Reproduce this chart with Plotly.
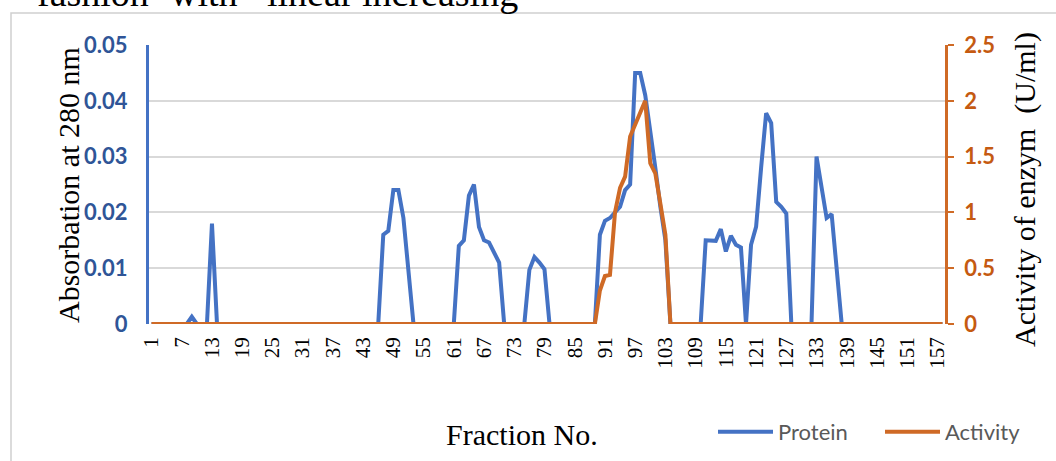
import plotly.graph_objects as go

# ---------------- data ----------------
fractions = list(range(1, 159))
tick_fractions = list(range(1, 158, 6))
tick_labels = [str(v) for v in tick_fractions]

protein = [
    0, 0, 0, 0, 0, 0, 0, 0, 0.0013, 0,                                  # 1-10
    0, 0, 0.018, 0, 0, 0, 0, 0, 0, 0,                                   # 11-20
    0, 0, 0, 0, 0, 0, 0, 0, 0, 0,                                       # 21-30
    0, 0, 0, 0, 0, 0, 0, 0, 0, 0,                                       # 31-40
    0, 0, 0, 0, 0, 0, 0.016, 0.0167, 0.024, 0.024,                      # 41-50
    0.019, 0.0095, 0, 0, 0, 0, 0, 0, 0, 0,                              # 51-60
    0, 0.014, 0.015, 0.023, 0.025, 0.0174, 0.015, 0.0146, 0.0128, 0.011,  # 61-70
    0, 0, 0, 0, 0, 0.0097, 0.012, 0.011, 0.0098, 0,                     # 71-80
    0, 0, 0, 0, 0, 0, 0, 0, 0, 0.016,                                   # 81-90
    0.0185, 0.019, 0.020, 0.021, 0.024, 0.025, 0.045, 0.045, 0.041, 0.035,  # 91-100
    0.028, 0.021, 0.015, 0, 0, 0, 0, 0, 0, 0,                           # 101-110
    0.015, 0.015, 0.0149, 0.017, 0.013, 0.0158, 0.0142, 0.0137, 0, 0.0142,  # 111-120
    0.0174, 0.028, 0.0378, 0.036, 0.0219, 0.021, 0.0198, 0, 0, 0,       # 121-130
    0, 0, 0.030, 0.025, 0.019, 0.0197, 0.010, 0, 0, 0,                  # 131-140
    0, 0, 0, 0, 0, 0, 0, 0, 0, 0,                                       # 141-150
    0, 0, 0, 0, 0, 0, 0, 0,                                             # 151-158
]

activity = [
    0, 0, 0, 0, 0, 0, 0, 0, 0, 0,                                       # 1-10
    0, 0, 0, 0, 0, 0, 0, 0, 0, 0,                                       # 11-20
    0, 0, 0, 0, 0, 0, 0, 0, 0, 0,                                       # 21-30
    0, 0, 0, 0, 0, 0, 0, 0, 0, 0,                                       # 31-40
    0, 0, 0, 0, 0, 0, 0, 0, 0, 0,                                       # 41-50
    0, 0, 0, 0, 0, 0, 0, 0, 0, 0,                                       # 51-60
    0, 0, 0, 0, 0, 0, 0, 0, 0, 0,                                       # 61-70
    0, 0, 0, 0, 0, 0, 0, 0, 0, 0,                                       # 71-80
    0, 0, 0, 0, 0, 0, 0, 0, 0, 0.30,                                    # 81-90
    0.43, 0.44, 1.00, 1.22, 1.32, 1.68, 1.78, 1.90, 2.00, 1.44,         # 91-100
    1.35, 1.08, 0.80, 0, 0, 0, 0, 0, 0, 0,                              # 101-110
    0, 0, 0, 0, 0, 0, 0, 0, 0, 0,                                       # 111-120
    0, 0, 0, 0, 0, 0, 0, 0, 0, 0,                                       # 121-130
    0, 0, 0, 0, 0, 0, 0, 0, 0, 0,                                       # 131-140
    0, 0, 0, 0, 0, 0, 0, 0, 0, 0,                                       # 141-150
    0, 0, 0, 0, 0, 0, 0, 0,                                             # 151-158
]

y1_ticks = [0, 0.01, 0.02, 0.03, 0.04, 0.05]
y1_labels = ["0", "0.01", "0.02", "0.03", "0.04", "0.05"]
y2_ticks = [0, 0.5, 1, 1.5, 2, 2.5]
y2_labels = ["0", "0.5", "1", "1.5", "2", "2.5"]

top_words = ["fashion", "with", "linear", "increasing"]

# ---------------- styling ----------------
W, H = 1056, 461
L, R, T, B = 149, 111, 45, 137
PW, PH = W - L - R, H - T - B

BLUE = "#4472C4"
ORANGE = "#CF6A26"
SERIF = "Liberation Serif, Times New Roman, serif"
SANS = "Lato, Carlito, Calibri, sans-serif"


def px(xp):
    return (xp - L) / PW


def py(yp):
    return (H - B - yp) / PH


fig = go.Figure()
fig.add_trace(go.Scatter(x=fractions, y=protein, mode="lines", name="Protein",
                         line=dict(color=BLUE, width=4), yaxis="y"))
fig.add_trace(go.Scatter(x=fractions, y=activity, mode="lines", name="Activity",
                         line=dict(color=ORANGE, width=4), yaxis="y2"))

fig.update_layout(
    width=W, height=H,
    margin=dict(l=L, r=R, t=T, b=B, pad=0, autoexpand=False),
    paper_bgcolor="white", plot_bgcolor="white",
    xaxis=dict(range=[0.5, 158.5], tickvals=tick_fractions, ticktext=tick_labels,
               tickangle=-90, tickfont=dict(family=SERIF, size=21, color="#000000"),
               showgrid=False, zeroline=False, showline=False, ticks="",
               ticklabelstandoff=8, automargin=False),
    yaxis=dict(range=[0, 0.05], tickvals=y1_ticks, ticktext=y1_labels,
               tickfont=dict(family=SANS, size=22, color="#2F5597", weight="bold"),
               showgrid=True, gridcolor="#D9D9D9", gridwidth=1.5, zeroline=False,
               showline=True, linecolor=BLUE, linewidth=3, ticks="",
               ticklabelstandoff=14, automargin=False),
    yaxis2=dict(range=[0, 2.5], tickvals=y2_ticks, ticktext=y2_labels, overlaying="y",
                side="right", tickfont=dict(family=SANS, size=22, color="#C55A11", weight="bold"),
                showgrid=False, zeroline=False, showline=True, linecolor=ORANGE, linewidth=2.5,
                ticks="outside", ticklen=6, tickwidth=2, tickcolor=ORANGE,
                ticklabelstandoff=6, automargin=False),
    showlegend=True,
    legend=dict(orientation="h", x=px(713), xanchor="left", y=py(432), yanchor="middle",
                font=dict(family=SANS, size=22, color="#595959"), itemwidth=55,
                entrywidth=97, entrywidthmode="pixels",
                bgcolor="rgba(0,0,0,0)", traceorder="normal"),
)

annotations = [
    dict(text="Absorbation at 280 nm", x=px(68), y=py(185), textangle=-90,
         font=dict(family=SERIF, size=30, color="#000000")),
    dict(text="Activity of enzym  (U/ml)", x=px(1025), y=py(190), textangle=-90,
         font=dict(family=SERIF, size=30, color="#000000")),
    dict(text="Fraction No.", x=px(522), y=py(434),
         font=dict(family=SERIF, size=30, color="#000000")),
]
word_x = [35, 168, 265, 360]
for w, wx in zip(top_words, word_x):
    annotations.append(dict(text=w, x=px(wx), xanchor="left", y=py(-7), yanchor="middle",
                            font=dict(family=SERIF, size=38, color="#000000")))
for a in annotations:
    a.setdefault("xanchor", "center")
    a.setdefault("yanchor", "middle")
    a.update(xref="paper", yref="paper", showarrow=False)
fig.update_layout(annotations=annotations)

fig.add_shape(type="rect", xref="paper", yref="paper",
              x0=px(11), x1=px(1075), y0=py(490), y1=py(13),
              line=dict(color="#D0D0D0", width=1.5), layer="below")

fig.write_html("out.html", config={"displayModeBar": False},
               post_script="document.body.style.margin='0px';document.body.style.padding='0px';")
